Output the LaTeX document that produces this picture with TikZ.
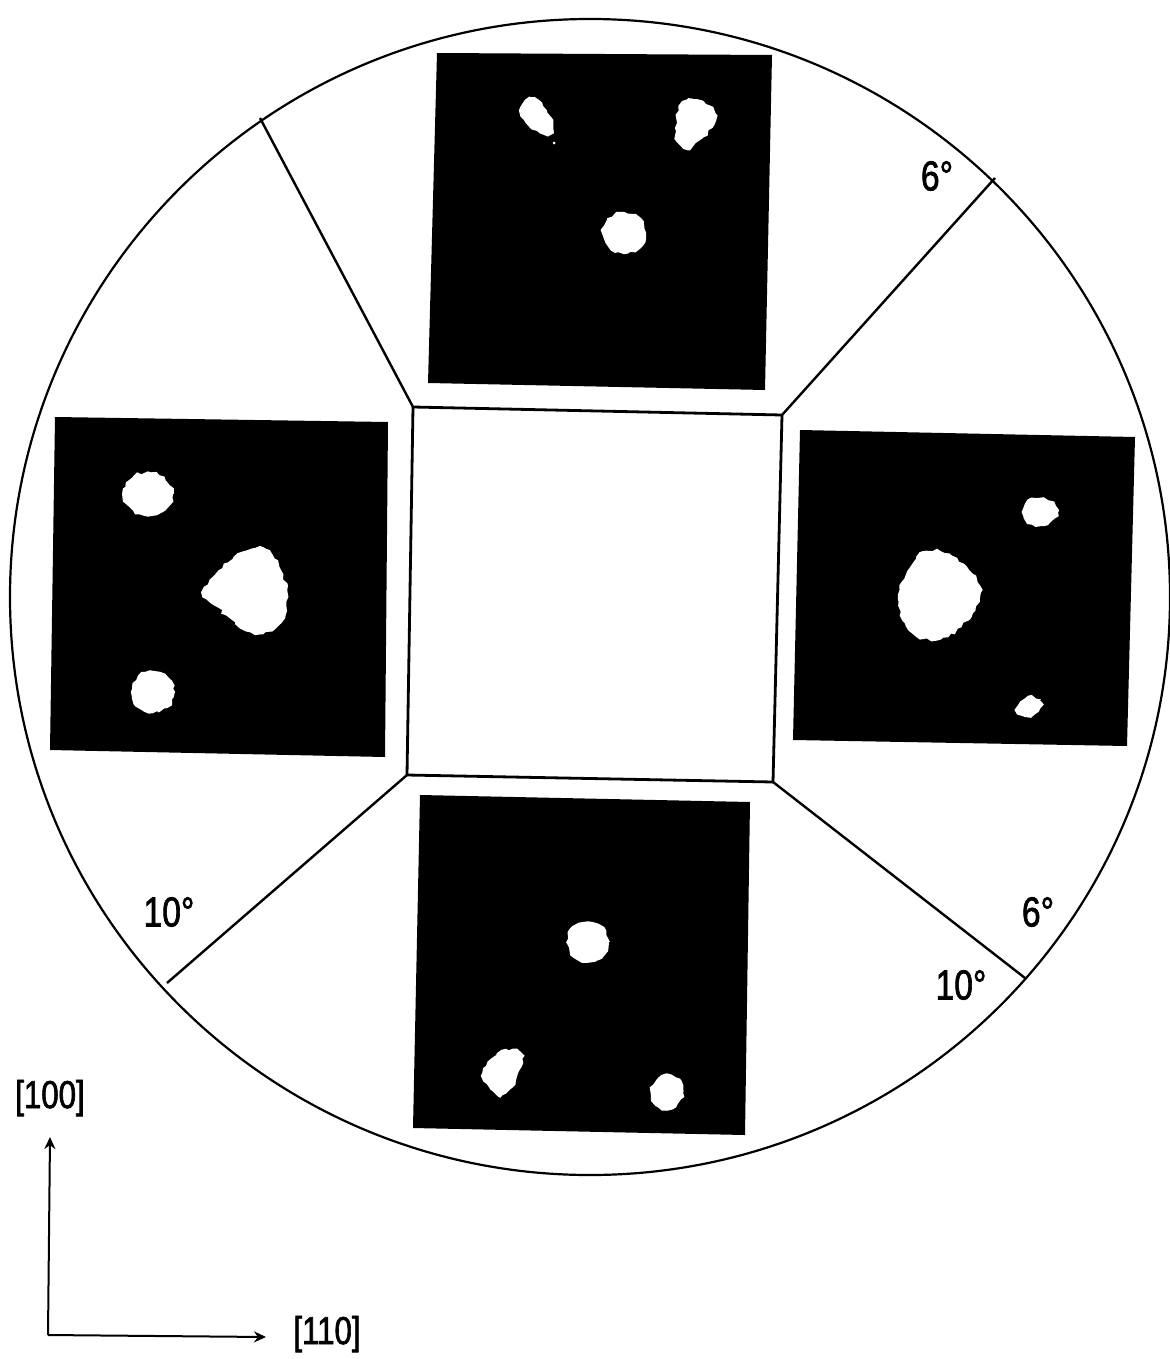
\documentclass[tikz,border=0pt]{standalone}
\usepackage{fontspec}
\setmainfont[FakeStretch=0.8,FakeBold=1.6]{Liberation Sans}
\usetikzlibrary{arrows.meta,decorations.pathmorphing}
\begin{document}
\begin{tikzpicture}[x=0.5pt,y=-0.5pt,
  rim/.style={line width=1.1pt},
  frameline/.style={line width=1.4pt, line join=miter},
  spoke/.style={line width=1.2pt},
  panel/.style={fill=black},
  spot/.style={fill=white, decorate, decoration={random steps, segment length=2.2pt, amplitude=0.9pt}},
  angle/.style={font=\fontsize{21}{21}\selectfont, inner sep=0pt},
  axislabel/.style={font=\fontsize{19.5}{19.5}\selectfont, inner sep=0pt},
  axisarrow/.style={line width=1pt, -{Stealth[length=6pt,width=5.5pt]}}
]
\useasboundingbox (0,0) rectangle (1169,1359);
% outer circle
\draw[rim] (590,597) ellipse [x radius=580, y radius=578];
% central square corners
\coordinate (s1) at (413,407);
\coordinate (s2) at (782,415);
\coordinate (s3) at (773,782);
\coordinate (s4) at (407,775);
% spoke ends on the circle
\coordinate (e1) at (260,118);
\coordinate (e2) at (995,178);
\coordinate (e3) at (1025,978);
\coordinate (e4) at (167,983);
\draw[frameline] (s1) -- (s2) -- (s3) -- (s4) -- cycle;
\draw[spoke] (s1) -- (e1);
\draw[spoke] (s2) -- (e2);
\draw[spoke] (s3) -- (e3);
\draw[spoke] (s4) -- (e4);
% black panels
\fill[panel] (437,53) -- (772,55) -- (765,390) -- (428,383) -- cycle;
\fill[panel] (55,417) -- (388,422) -- (385,757) -- (50,750) -- cycle;
\fill[panel] (800,430) -- (1135,437) -- (1127,746) -- (793,740) -- cycle;
\fill[panel] (420,795) -- (750,802) -- (745,1135) -- (413,1128) -- cycle;
% spots: top panel
\fill[spot] plot[smooth cycle] coordinates {(520,110) (530,97) (543,106) (553,120) (553,133) (540,133) (526,123)};
\fill[white] (554,143) circle (1.5);
\fill[spot] plot[smooth cycle] coordinates {(679,106) (693,99) (710,106) (716,120) (704,137) (688,150) (677,141) (677,123)};
\fill[spot] (624,233) ellipse [x radius=22, y radius=21];
% spots: left panel
\fill[spot] (148,494) ellipse [x radius=25, y radius=22];
\fill[spot] plot[smooth cycle] coordinates {(203,592) (238,553) (266,549) (281,570) (288,597) (281,623) (263,634) (240,628) (217,607)};
\fill[spot] (153,692) ellipse [x radius=22, y radius=21];
% spots: right panel
\fill[spot] (1040,512) ellipse [x radius=18, y radius=14];
\fill[spot] plot[smooth cycle] coordinates {(898,595) (916,557) (940,551) (967,567) (982,590) (973,613) (948,637) (920,639) (905,623)};
\fill[spot, rotate around={30:(1029,707)}] (1029,707) ellipse [x radius=13, y radius=9];
% spots: bottom panel
\fill[spot] (588,942) ellipse [x radius=21, y radius=20];
\fill[spot] plot[smooth cycle] coordinates {(483,1073) (497,1053) (517,1049) (523,1063) (513,1087) (500,1097) (487,1084)};
\fill[spot] (667,1092) ellipse [x radius=16, y radius=18];
% angle labels
\node[angle] (a1) at (937,176) {6°};
\node[angle] (a2) at (1038,912) {6°};
\node[angle] (a3) at (961,985) {10°};
\node[angle] (a4) at (169,912) {10°};
% axes
\coordinate (o) at (48,1335);
\coordinate (up) at (50,1137);
\coordinate (rt) at (266,1337);
\draw[axisarrow] (o) -- (up);
\draw[axisarrow] (o) -- (rt);
\node[axislabel] (l100) at (50,1098) {[100]};
\node[axislabel] (l110) at (327,1334) {[110]};
\end{tikzpicture}
\end{document}
